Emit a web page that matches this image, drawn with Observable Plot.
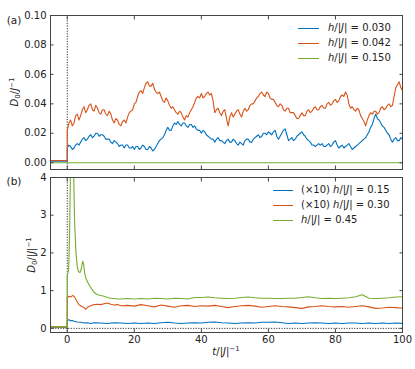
<!DOCTYPE html>
<html><head><meta charset="utf-8">
<script src="https://cdn.jsdelivr.net/npm/d3@7"></script>
<script src="https://cdn.jsdelivr.net/npm/@observablehq/plot@0.6"></script>
<style>
body{margin:0;background:#fff;}
#wrap{position:relative;width:415px;height:369px;font-family:"DejaVu Sans",sans-serif;color:#222;overflow:hidden;}
#wrap svg{position:absolute;left:0;}
.abs{position:absolute;white-space:nowrap;font-size:10px;line-height:1;}
.rot{transform:translate(-50%,-50%) rotate(-90deg);}
.ctr{transform:translate(-50%,-50%);}
.legend{position:absolute;font-size:10px;line-height:1;}
.legend .row{display:flex;align-items:center;height:15px;white-space:nowrap;}
.sw{display:inline-block;height:0;border-top:1.4px solid;}
sup{font-size:7px;vertical-align:0;position:relative;top:-4px;}
sub{font-size:7px;vertical-align:0;position:relative;top:2px;}
</style></head><body><div id="wrap"></div><script>
// ---- data ----
const colors = ["#0072BD", "#D95319", "#77AC30"];
const xTicks = [0, 20, 40, 60, 80, 100];
const yTopTicks = [0, 0.02, 0.04, 0.06, 0.08, 0.10];
const yBotTicks = [0, 1, 2, 3, 4];
const topLabels = ["0.030", "0.042", "0.150"];
const botLabels = ["(×10) ", "(×10) ", ""];
const botValues = ["0.15", "0.30", "0.45"];

// panel (a): samples at t = 0,1,...,100 and at half steps t = 0.5,...,99.5 ; value before t=0
const tTop = d3.range(0, 101);
const tTopMid = d3.range(0.5, 100, 1);
const bluePreTop = 0.001;
const orangePreTop = 0.0015;
const blueTop = [
0.010,0.011,0.010,0.013,0.014,0.017,0.016,0.019,0.018,0.020,
0.019,0.018,0.016,0.014,0.015,0.013,0.012,0.010,0.012,0.010,
0.009,0.011,0.010,0.011,0.009,0.010,0.009,0.013,0.016,0.019,
0.024,0.022,0.027,0.028,0.025,0.027,0.024,0.026,0.025,0.022,
0.020,0.021,0.018,0.016,0.014,0.017,0.015,0.013,0.016,0.014,
0.015,0.012,0.013,0.015,0.016,0.014,0.017,0.019,0.018,0.020,
0.021,0.019,0.022,0.016,0.020,0.023,0.015,0.017,0.016,0.019,
0.021,0.018,0.015,0.012,0.011,0.013,0.013,0.011,0.013,0.012,
0.015,0.010,0.012,0.011,0.013,0.009,0.011,0.013,0.015,0.017,
0.021,0.026,0.033,0.029,0.025,0.022,0.019,0.014,0.017,0.015,
0.016];
const blueTopMid = [
0.012,0.009,0.012,0.012,0.016,0.015,0.018,0.017,0.020,0.018,
0.019,0.016,0.016,0.013,0.014,0.011,0.012,0.012,0.010,0.011,
0.011,0.009,0.012,0.009,0.011,0.008,0.011,0.015,0.017,0.022,
0.022,0.025,0.026,0.026,0.027,0.025,0.026,0.024,0.023,0.022,
0.022,0.019,0.017,0.016,0.016,0.015,0.014,0.015,0.014,0.016,
0.013,0.014,0.012,0.016,0.014,0.016,0.018,0.017,0.020,0.019,
0.020,0.021,0.018,0.018,0.022,0.019,0.016,0.015,0.018,0.020,
0.019,0.016,0.014,0.012,0.012,0.012,0.011,0.012,0.011,0.014,
0.012,0.011,0.010,0.012,0.011,0.010,0.012,0.014,0.016,0.019,
0.024,0.030,0.030,0.027,0.024,0.020,0.016,0.016,0.015,0.017];
const orangeTop = [
0.022,0.029,0.027,0.033,0.032,0.038,0.036,0.040,0.035,0.037,
0.033,0.036,0.032,0.033,0.027,0.029,0.025,0.029,0.031,0.035,
0.040,0.045,0.049,0.051,0.055,0.052,0.050,0.047,0.045,0.041,
0.042,0.037,0.036,0.033,0.034,0.029,0.031,0.036,0.041,0.045,
0.047,0.045,0.048,0.047,0.034,0.037,0.032,0.036,0.025,0.034,
0.033,0.036,0.031,0.037,0.036,0.040,0.042,0.045,0.048,0.045,
0.047,0.043,0.041,0.038,0.039,0.035,0.037,0.034,0.032,0.030,
0.034,0.032,0.036,0.035,0.038,0.036,0.039,0.037,0.041,0.040,
0.043,0.042,0.046,0.048,0.040,0.038,0.035,0.036,0.030,0.025,
0.032,0.033,0.035,0.034,0.038,0.037,0.040,0.039,0.051,0.055,
0.049];
const orangeTopMid = [
0.027,0.025,0.032,0.029,0.036,0.034,0.039,0.036,0.039,0.034,
0.036,0.033,0.035,0.029,0.030,0.026,0.028,0.027,0.034,0.036,
0.041,0.048,0.047,0.054,0.052,0.054,0.048,0.048,0.042,0.044,
0.039,0.038,0.034,0.035,0.031,0.032,0.034,0.038,0.044,0.044,
0.044,0.047,0.046,0.042,0.036,0.034,0.035,0.030,0.031,0.031,
0.035,0.033,0.035,0.035,0.039,0.040,0.044,0.047,0.046,0.048,
0.044,0.043,0.039,0.040,0.036,0.037,0.034,0.034,0.030,0.032,
0.032,0.035,0.034,0.037,0.036,0.038,0.037,0.040,0.039,0.042,
0.041,0.045,0.045,0.046,0.037,0.036,0.037,0.032,0.028,0.029,
0.034,0.035,0.033,0.037,0.036,0.039,0.038,0.045,0.053,0.051];
const greenTop = [[-5, 0], [0, 0], [100, 0]];

// panel (b): [t, value] pairs
const blueBot = [[-5,0.03],[0,0.03],[0,0.22],[0.5,0.23],[1,0.20],[1.5,0.21],[2,0.19],[3,0.17],[4,0.16],[5,0.14],[6,0.15],[7,0.13],[8,0.15],[10,0.14],[12,0.13],[14,0.15],[16,0.14],[18,0.13],[20,0.14],[22,0.13],[24,0.14],[26,0.13],[28,0.15],[30,0.16],[32,0.14],[34,0.13],[36,0.14],[38,0.15],[40,0.14],[42,0.16],[44,0.17],[46,0.15],[48,0.14],[50,0.13],[52,0.14],[54,0.15],[56,0.14],[58,0.16],[60,0.16],[62,0.17],[64,0.15],[66,0.13],[68,0.14],[70,0.13],[72,0.14],[74,0.15],[76,0.14],[78,0.13],[80,0.14],[82,0.13],[84,0.14],[86,0.14],[88,0.13],[90,0.14],[92,0.13],[94,0.14],[96,0.13],[98,0.14],[100,0.13]];
const orangeBot = [[-5,0.04],[0,0.04],[0,0.82],[0.5,0.85],[1,0.83],[1.5,0.87],[2,0.85],[2.5,0.78],[3,0.70],[3.5,0.63],[4,0.60],[4.5,0.57],[5,0.55],[5.5,0.50],[6,0.56],[6.5,0.58],[7,0.60],[8,0.63],[9,0.64],[10,0.63],[11,0.65],[12,0.67],[13,0.64],[14,0.62],[15,0.63],[16,0.60],[18,0.61],[20,0.59],[22,0.63],[24,0.60],[26,0.57],[28,0.62],[30,0.59],[32,0.56],[34,0.60],[36,0.61],[38,0.58],[40,0.60],[42,0.59],[44,0.61],[46,0.58],[48,0.55],[50,0.58],[52,0.60],[54,0.61],[56,0.59],[58,0.56],[60,0.58],[62,0.60],[64,0.58],[66,0.57],[68,0.55],[70,0.53],[72,0.57],[74,0.58],[76,0.60],[78,0.58],[80,0.57],[82,0.58],[84,0.56],[86,0.58],[88,0.60],[90,0.57],[92,0.53],[94,0.54],[96,0.56],[98,0.55],[100,0.54]];
const greenBot = [[-5,0.04],[0,0.04],[0,1.4],[0.4,1.55],[0.7,2.5],[1.0,4.5],[1.4,5.5],[1.8,4.6],[2.2,2.8],[2.6,2.0],[3.0,1.62],[3.4,1.5],[3.8,1.48],[4.2,1.58],[4.6,1.78],[4.9,1.7],[5.2,1.46],[5.6,1.32],[6.1,1.22],[6.6,1.14],[7.1,1.07],[7.6,1.0],[8.1,0.95],[8.6,0.91],[9.1,0.89],[10,0.87],[11,0.85],[12,0.82],[13,0.80],[14,0.79],[15,0.78],[16,0.78],[18,0.79],[20,0.78],[22,0.79],[24,0.78],[26,0.80],[28,0.79],[30,0.78],[32,0.80],[34,0.79],[36,0.78],[38,0.82],[40,0.82],[42,0.83],[44,0.81],[46,0.80],[48,0.79],[50,0.80],[52,0.82],[54,0.83],[56,0.81],[58,0.80],[60,0.80],[62,0.79],[64,0.79],[66,0.80],[68,0.80],[70,0.82],[72,0.84],[74,0.81],[76,0.79],[78,0.80],[80,0.79],[82,0.80],[84,0.81],[86,0.84],[88,0.89],[90,0.80],[92,0.79],[94,0.80],[96,0.81],[98,0.83],[100,0.84]];

// ---- build ----
const pairs = arr => arr.map(([t, v]) => ({t, v}));
const withPre = (pre, vals, mids) => {
  const out = [{t: -5, v: pre}, {t: 0, v: pre}];
  tTop.forEach((t, i) => {
    out.push({t, v: vals[i]});
    if (i < tTopMid.length) out.push({t: tTopMid[i], v: mids[i]});
  });
  return out;
};

const frameColor = "#444";
const tick = -3.5;
function frameAxes(yTicks, yFmt, xLabels) {
  return [
    Plot.frame({stroke: frameColor, strokeWidth: 1}),
    Plot.axisY({anchor: "left", ticks: yTicks, tickSize: 0, tickPadding: 4, tickFormat: yFmt, label: null, fontSize: 10}),
    Plot.axisY({anchor: "left", ticks: yTicks, tickSize: tick, tickFormat: () => "", label: null, stroke: frameColor}),
    Plot.axisY({anchor: "right", ticks: yTicks, tickSize: tick, tickFormat: () => "", label: null, stroke: frameColor}),
    Plot.axisX({anchor: "top", ticks: xTicks, tickSize: tick, tickFormat: () => "", label: null, stroke: frameColor}),
    Plot.axisX({anchor: "bottom", ticks: xTicks, tickSize: tick, tickFormat: () => "", label: null, stroke: frameColor}),
    ...(xLabels ? [Plot.axisX({anchor: "bottom", ticks: xTicks, tickSize: 0, tickPadding: 3, label: null, fontSize: 10})] : [])
  ];
}
const lineOpts = c => ({x: "t", y: "v", stroke: c, strokeWidth: 1.1, clip: true});
const dotted = {stroke: "#000", strokeWidth: 0.8, strokeDasharray: "1.2,1.4"};
const style = {fontFamily: "DejaVu Sans, sans-serif", fontSize: "10px", color: "#222", background: "transparent", overflow: "visible"};

const topPlot = Plot.plot({
  width: 415, height: 172, marginLeft: 50, marginRight: 13, marginTop: 15, marginBottom: 3,
  style,
  x: {domain: [-5, 100], label: null},
  y: {domain: [-0.0046, 0.1], label: null},
  marks: [
    Plot.ruleX([0], dotted),
    Plot.line(withPre(bluePreTop, blueTop, blueTopMid), lineOpts(colors[0])),
    Plot.line(withPre(orangePreTop, orangeTop, orangeTopMid), lineOpts(colors[1])),
    Plot.line(pairs(greenTop), lineOpts(colors[2])),
    ...frameAxes(yTopTicks, d3.format(".2f"), false)
  ]
});
const botPlot = Plot.plot({
  width: 415, height: 197, marginLeft: 50, marginRight: 13, marginTop: 5, marginBottom: 37,
  style,
  x: {domain: [-5, 100], label: null},
  y: {domain: [-0.11, 4], label: null},
  marks: [
    Plot.ruleX([0], dotted),
    Plot.ruleY([0], dotted),
    Plot.line(pairs(blueBot), lineOpts(colors[0])),
    Plot.line(pairs(orangeBot), lineOpts(colors[1])),
    Plot.line(pairs(greenBot), lineOpts(colors[2])),
    ...frameAxes(yBotTicks, d3.format("d"), true)
  ]
});

const wrap = document.getElementById("wrap");
topPlot.style.top = "0px";
botPlot.style.top = "172px";
wrap.appendChild(topPlot);
wrap.appendChild(botPlot);

function addHTML(html) { wrap.insertAdjacentHTML("beforeend", html); }
addHTML(`<div class="abs ctr" style="left:14px;top:20px;font-size:10.5px">(a)</div>`);
addHTML(`<div class="abs ctr" style="left:14px;top:181px;font-size:10.5px">(b)</div>`);
addHTML(`<div class="abs rot" style="left:15px;top:92px"><i>D</i><sub>0</sub>/<i>J</i><sup>−1</sup></div>`);
addHTML(`<div class="abs rot" style="left:32px;top:255px"><i>D</i><sub>0</sub>/|<i>J</i>|<sup>−1</sup></div>`);
addHTML(`<div class="abs ctr" style="left:226px;top:352px"><i>t</i>/|<i>J</i>|<sup>−1</sup></div>`);

function legend(left, top, swW, gap, texts) {
  let h = `<div class="legend" style="left:${left}px;top:${top}px">`;
  texts.forEach((tx, i) => {
    h += `<div class="row"><span class="sw" style="width:${swW}px;margin-right:${gap}px;border-color:${colors[i]}"></span><span>${tx}</span></div>`;
  });
  addHTML(h + `</div>`);
}
legend(298, 20.5, 21, 9, topLabels.map(v => `<i>h</i>/|<i>J</i>| = ${v}`));
legend(273, 182.5, 20, 8, botValues.map((v, i) => `${botLabels[i]}<i>h</i>/|<i>J</i>| = ${v}`));
</script></body></html>
